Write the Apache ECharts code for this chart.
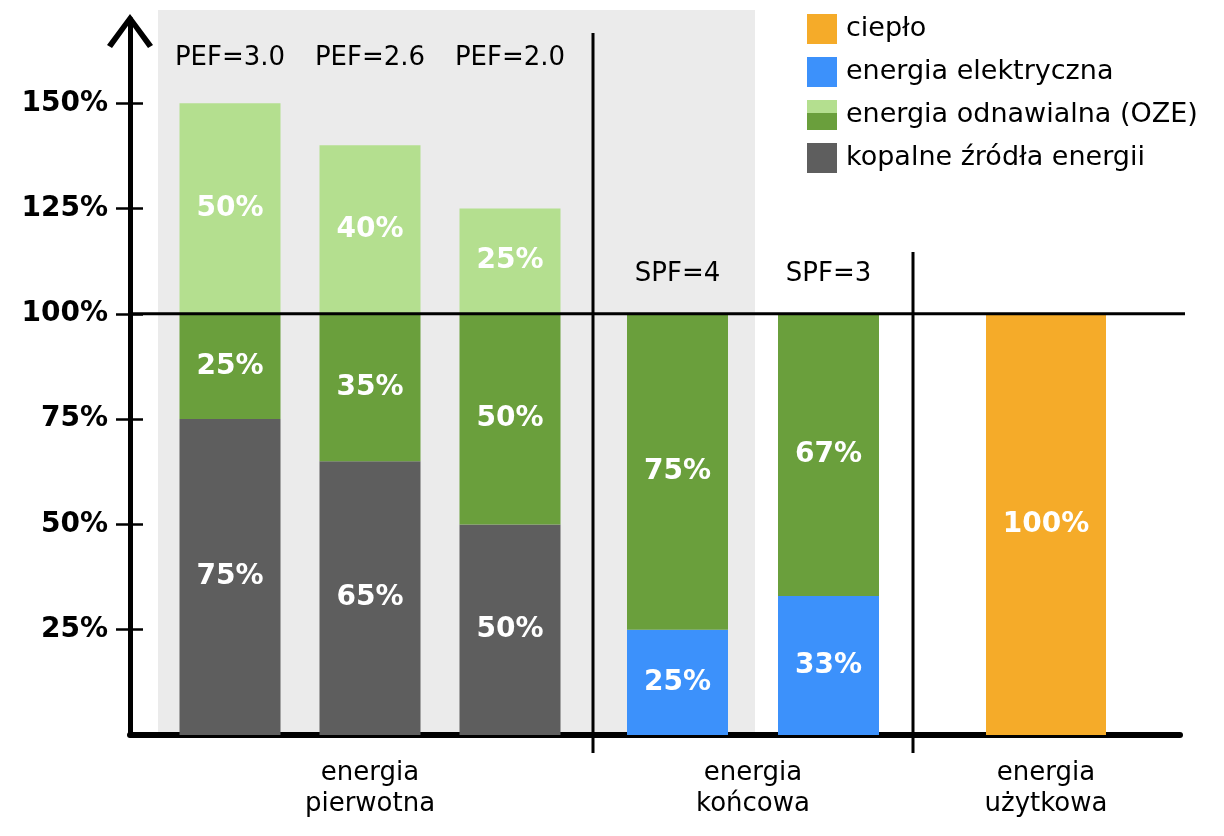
<!DOCTYPE html>
<html><head><meta charset="utf-8">
<script src="https://cdn.jsdelivr.net/npm/echarts@6/dist/echarts.min.js"></script>
<style>html,body{margin:0;padding:0;background:#fff}#c{width:1224px;height:836px}</style>
</head><body><div id="c"></div><script>
// ---- data ----
const yTicks = [25, 50, 75, 100, 125, 150];
const primaryCats = ['PEF=3.0', 'PEF=2.6', 'PEF=2.0'];
const primaryFossil = [75, 65, 50];
const primaryRenewLow = [25, 35, 50];
const primaryRenewHigh = [50, 40, 25];
const finalCats = ['SPF=4', 'SPF=3'];
const finalElectric = [25, 33];
const finalRenew = [75, 67];
const usefulCats = ['100%'];
const usefulHeat = [100];
const groupNames = ['energia\npierwotna', 'energia\nkońcowa', 'energia\nużytkowa'];
const legendNames = ['ciepło', 'energia elektryczna', 'energia odnawialna (OZE)', 'kopalne źródła energii'];

// ---- style ----
const FONT = 'DejaVu Sans';
const COL = { heat: '#f5ab29', elec: '#3c91fb', renewLow: '#6a9f3c', renewHigh: '#b4df8f', fossil: '#5e5e5e', bg: '#ebebeb' };
const YMAX = 170;
const TOP = 19, BOTTOM = 101;

const ozeSvg = '<svg xmlns="http://www.w3.org/2000/svg" width="30" height="30"><rect width="30" height="15" fill="' + COL.renewHigh + '"/><rect y="13" width="30" height="17" fill="' + COL.renewLow + '"/></svg>';
const ozeIcon = 'image://data:image/svg+xml;charset=utf-8,' + encodeURIComponent(ozeSvg);
const chevron = 'path://M0,31 L23,0 L46,31 L41,34 L23,9 L5,34 Z';

const barLabel = { show: true, position: 'inside', formatter: '{c}%', color: '#fff', fontWeight: 'bold', fontSize: 28, fontFamily: FONT };
const hiddenY = (g) => ({ type: 'value', gridIndex: g, min: 0, max: YMAX, show: false });
const nameStyle = { fontSize: 26, fontFamily: FONT, color: '#000', lineHeight: 31 };
const bottomCat = (g, data, name) => ({
  type: 'category', gridIndex: g, data: data, position: 'bottom',
  axisLine: { show: false }, axisTick: { show: false }, axisLabel: { show: false },
  name: name, nameLocation: 'middle', nameGap: 23, nameTextStyle: nameStyle
});
const topCat = (g, data, margin) => ({
  type: 'category', gridIndex: g, data: data, position: 'top',
  axisLine: { show: false }, axisTick: { show: false },
  axisLabel: { inside: true, interval: 0, hideOverlap: false, margin: margin, fontSize: 26, fontFamily: FONT, color: '#000' }
});

const chart = echarts.init(document.getElementById('c'));
const option = {
  animation: false,
  backgroundColor: '#fff',
  legend: {
    orient: 'vertical', left: 802, top: 9,
    itemWidth: 30, itemHeight: 30, itemGap: 13,
    textStyle: { fontSize: 27, fontFamily: FONT, color: '#000', padding: [0, 0, 0, 4] },
    data: [
      { name: legendNames[0], icon: 'rect' },
      { name: legendNames[1], icon: 'rect' },
      { name: legendNames[2], icon: ozeIcon },
      { name: legendNames[3], icon: 'rect' }
    ]
  },
  grid: [
    { left: 130, right: 44, top: TOP, bottom: BOTTOM },
    { left: 160, width: 420, top: TOP, bottom: BOTTOM },
    { left: 602, width: 302, top: TOP, bottom: BOTTOM },
    { left: 913, width: 266, top: TOP, bottom: BOTTOM }
  ],
  xAxis: [
    { type: 'value', gridIndex: 0, min: 0, max: 1,
      axisLine: { show: true, lineStyle: { color: '#000', width: 6 } },
      axisTick: { show: false }, axisLabel: { show: false }, splitLine: { show: false } },
    bottomCat(1, primaryCats, groupNames[0]),
    topCat(1, primaryCats, 26),
    bottomCat(2, finalCats, groupNames[1]),
    topCat(2, finalCats, 242),
    bottomCat(3, usefulCats, groupNames[2])
  ],
  yAxis: [
    { type: 'value', gridIndex: 0, min: 0, max: YMAX, position: 'left',
      axisLine: { show: true, lineStyle: { color: '#000', width: 5 },
        symbol: ['none', chevron], symbolSize: [46, 34], symbolOffset: [0, -12] },
      axisTick: { show: true, customValues: yTicks, length: 14, lineStyle: { color: '#000', width: 2.5 } },
      axisLabel: { show: true, customValues: yTicks, formatter: '{value}%', margin: 22,
        fontSize: 28, fontWeight: 'bold', fontFamily: FONT, color: '#000' },
      splitLine: { show: false } },
    { type: 'value', gridIndex: 0, min: 0, max: YMAX, position: 'left',
      axisLine: { show: false },
      axisTick: { show: true, inside: true, customValues: yTicks, length: 13, lineStyle: { color: '#000', width: 2.5 } },
      axisLabel: { show: false }, splitLine: { show: false } },
    hiddenY(1), hiddenY(2), hiddenY(3)
  ],
  series: [
    { type: 'bar', name: legendNames[3], xAxisIndex: 1, yAxisIndex: 2, stack: 'p', barWidth: 101,
      data: primaryFossil, itemStyle: { color: COL.fossil }, label: barLabel },
    { type: 'bar', name: legendNames[2], xAxisIndex: 1, yAxisIndex: 2, stack: 'p', barWidth: 101,
      data: primaryRenewLow, itemStyle: { color: COL.renewLow }, label: barLabel },
    { type: 'bar', name: legendNames[2], xAxisIndex: 1, yAxisIndex: 2, stack: 'p', barWidth: 101,
      data: primaryRenewHigh, itemStyle: { color: COL.renewHigh }, label: barLabel },
    { type: 'bar', name: legendNames[1], xAxisIndex: 3, yAxisIndex: 3, stack: 'f', barWidth: 101,
      data: finalElectric, itemStyle: { color: COL.elec }, label: barLabel },
    { type: 'bar', name: legendNames[2], xAxisIndex: 3, yAxisIndex: 3, stack: 'f', barWidth: 101,
      data: finalRenew, itemStyle: { color: COL.renewLow }, label: barLabel },
    { type: 'bar', name: legendNames[0], xAxisIndex: 5, yAxisIndex: 4, barWidth: 120,
      data: usefulHeat, itemStyle: { color: COL.heat }, label: barLabel }
  ]
};
chart.setOption(option);

// decorations tied to the frame scale
const y100 = chart.convertToPixel({ yAxisIndex: 0 }, 100);
const y0 = chart.convertToPixel({ yAxisIndex: 0 }, 0);
const xStart = chart.convertToPixel({ xAxisIndex: 0 }, 0);
chart.setOption({
  graphic: [
    { type: 'rect', z: -10, silent: true, shape: { x: 158, y: 10, width: 597, height: y0 - 10 }, style: { fill: COL.bg } },
    { type: 'line', z: 50, silent: true, shape: { x1: xStart, y1: y100, x2: 1185, y2: y100 }, style: { stroke: '#000', lineWidth: 3 } },
    { type: 'line', z: 50, silent: true, shape: { x1: 593, y1: 33, x2: 593, y2: 753 }, style: { stroke: '#000', lineWidth: 3 } },
    { type: 'line', z: 50, silent: true, shape: { x1: 913, y1: 252, x2: 913, y2: 753 }, style: { stroke: '#000', lineWidth: 3 } }
  ]
});
</script></body></html>
